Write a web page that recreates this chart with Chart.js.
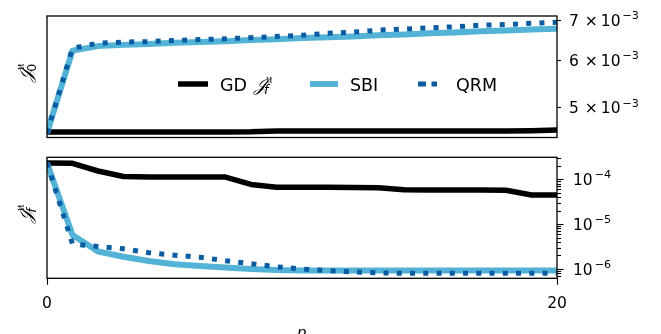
<!DOCTYPE html>
<html>
<head>
<meta charset="utf-8">
<script src="https://cdn.jsdelivr.net/npm/chart.js@4.4.0/dist/chart.umd.min.js"></script>
<style>
  html, body { margin: 0; padding: 0; background: #fff; width: 661px; height: 334px; overflow: hidden; }
  #wrap { position: relative; width: 661px; height: 334px; }
  canvas { position: absolute; left: 0; }
  #topPanel { top: 0; }
  #bottomPanel { top: 150px; }
</style>
</head>
<body>
<div id="wrap">
  <canvas id="topPanel" width="661" height="150"></canvas>
  <canvas id="bottomPanel" width="661" height="184"></canvas>
</div>
<script>
// Iteration index n
const iterations = [0, 1, 2, 3, 4, 5, 6, 7, 8, 9, 10, 11, 12, 13, 14, 15, 16, 17, 18, 19, 20];

// Upper panel: J_0^u per iteration
const gdTop  = [4.547e-3, 4.547e-3, 4.547e-3, 4.547e-3, 4.547e-3, 4.547e-3, 4.547e-3, 4.547e-3, 4.550e-3,
                4.564e-3, 4.564e-3, 4.564e-3, 4.564e-3, 4.564e-3, 4.564e-3, 4.564e-3, 4.564e-3, 4.564e-3,
                4.566e-3, 4.570e-3, 4.581e-3];
const sbiTop = [4.53e-3, 6.22e-3, 6.33e-3, 6.36e-3, 6.38e-3, 6.41e-3, 6.43e-3, 6.45e-3, 6.48e-3, 6.50e-3,
                6.53e-3, 6.55e-3, 6.57e-3, 6.60e-3, 6.62e-3, 6.65e-3, 6.67e-3, 6.70e-3, 6.72e-3, 6.75e-3, 6.77e-3];
const qrmTop = [4.53e-3, 6.28e-3, 6.40e-3, 6.43e-3, 6.44e-3, 6.47e-3, 6.49e-3, 6.51e-3, 6.54e-3, 6.57e-3,
                6.60e-3, 6.65e-3, 6.68e-3, 6.73e-3, 6.76e-3, 6.79e-3, 6.82e-3, 6.86e-3, 6.88e-3, 6.91e-3, 6.94e-3];

// Lower panel: J_f^u per iteration
const gdBot  = [2.31e-4, 2.27e-4, 1.53e-4, 1.15e-4, 1.13e-4, 1.125e-4, 1.12e-4, 1.12e-4, 7.66e-5, 6.63e-5,
                6.63e-5, 6.60e-5, 6.56e-5, 6.46e-5, 5.83e-5, 5.80e-5, 5.77e-5, 5.74e-5, 5.70e-5, 4.47e-5, 4.47e-5];
const sbiBot = [2.31e-4, 5.73e-6, 2.46e-6, 1.88e-6, 1.51e-6, 1.27e-6, 1.17e-6, 1.08e-6, 1.00e-6, 0.95e-6,
                0.93e-6, 0.93e-6, 0.93e-6, 0.93e-6, 0.93e-6, 0.93e-6, 0.93e-6, 0.93e-6, 0.93e-6, 0.93e-6, 0.93e-6];
const qrmBot = [2.31e-4, 3.61e-6, 3.17e-6, 2.82e-6, 2.31e-6, 2.03e-6, 1.83e-6, 1.53e-6, 1.31e-6, 1.12e-6,
                1.00e-6, 0.92e-6, 0.86e-6, 0.82e-6, 0.80e-6, 0.80e-6, 0.80e-6, 0.80e-6, 0.80e-6, 0.80e-6, 0.80e-6];

// Axis ranges and ticks
const xTicks = [0, 20];
const topRange = [4.452e-3, 7.108e-3];
const topTicks = [5e-3, 6e-3, 7e-3];
const bottomRange = [0.62e-6, 3.09e-4];
const bottomMajorTicks = [1e-6, 1e-5, 1e-4];
const bottomMinorTicks = [7e-7, 8e-7, 9e-7,
                          2e-6, 3e-6, 4e-6, 5e-6, 6e-6, 7e-6, 8e-6, 9e-6,
                          2e-5, 3e-5, 4e-5, 5e-5, 6e-5, 7e-5, 8e-5, 9e-5,
                          2e-4, 3e-4];

const seriesNames = ['GD', 'SBI', 'QRM'];
const COLORS = { gd: '#000000', sbi: '#52b3d6', qrm: '#0a5ca2' };
const FONT = "'DejaVu Sans', sans-serif";
const TICK_SIZE = 15.5;

function points(ys) { return iterations.map((n, i) => ({ x: n, y: ys[i] })); }

function makeDatasets(gd, sbi, qrm) {
  return [
    { label: seriesNames[0], data: points(gd), borderColor: COLORS.gd, borderWidth: 5.5, order: 3 },
    { label: seriesNames[1], data: points(sbi), borderColor: COLORS.sbi, borderWidth: 6, order: 2 },
    { label: seriesNames[2], data: points(qrm), borderColor: COLORS.qrm, borderWidth: 5,
      borderDash: [5, 8.25], borderCapStyle: 'butt', order: 1 }
  ].map(d => Object.assign({ pointRadius: 0, tension: 0, fill: false, borderJoinStyle: 'round' }, d));
}

// Script J with a superscript u and a subscript, drawn left-aligned from (x, baseline)
function drawJ(ctx, x, base, size, sub, subItalic) {
  ctx.save();
  ctx.textAlign = 'left';
  ctx.textBaseline = 'alphabetic';
  ctx.font = `italic ${size}px 'DejaVu Serif', serif`;
  ctx.fillText('𝒥', x, base);
  const wJ = ctx.measureText('𝒥').width;
  const s = size * 0.7;
  ctx.font = `${s}px 'DejaVu Serif', serif`;
  ctx.fillText('𝔲', x + wJ + 0.5, base - size * 0.42);
  const wU = ctx.measureText('𝔲').width;
  ctx.font = `${subItalic ? 'italic ' : ''}${s}px 'DejaVu Sans', sans-serif`;
  ctx.fillText(sub, x + wJ - 1.5, base + size * 0.22);
  const wS = ctx.measureText(sub).width;
  ctx.restore();
  return wJ + Math.max(wU + 0.5, wS - 1.5);
}

function measureJ(ctx, size, sub, subItalic) {
  ctx.save();
  ctx.font = `italic ${size}px 'DejaVu Serif', serif`;
  const wJ = ctx.measureText('𝒥').width;
  ctx.font = `${size * 0.7}px 'DejaVu Serif', serif`;
  const wU = ctx.measureText('𝔲').width;
  ctx.font = `${subItalic ? 'italic ' : ''}${size * 0.7}px 'DejaVu Sans', sans-serif`;
  const wS = ctx.measureText(sub).width;
  ctx.restore();
  return wJ + Math.max(wU + 0.5, wS - 1.5);
}

// Rotated axis title at the left of a panel
function drawYTitle(ctx, cx, cy, sub, subItalic) {
  const size = 18;
  ctx.save();
  ctx.translate(cx, cy);
  ctx.rotate(-Math.PI / 2);
  const w = measureJ(ctx, size, sub, subItalic);
  drawJ(ctx, -w / 2, size * 0.28, size, sub, subItalic);
  ctx.restore();
}

// "m × 10^e" or "10^e" tick label, vertically centred on y
function drawPowLabel(ctx, x, y, value, withMantissa) {
  const exp = Math.floor(Math.log10(value) + 1e-9);
  const mant = Math.round(value / Math.pow(10, exp));
  const base = y + TICK_SIZE * 0.365;
  ctx.save();
  ctx.fillStyle = '#000';
  ctx.textAlign = 'left';
  ctx.textBaseline = 'alphabetic';
  ctx.font = `${TICK_SIZE}px ${FONT}`;
  let cx = x;
  if (withMantissa) {
    ctx.fillText(String(mant), cx, base);
    ctx.fillText('×', cx + TICK_SIZE * 1.02, base);
    cx += TICK_SIZE * 2.05;
  }
  ctx.fillText('10', cx, base);
  cx += ctx.measureText('10').width + 2;
  ctx.font = `${TICK_SIZE * 0.72}px ${FONT}`;
  ctx.fillText('−' + Math.abs(exp), cx, base - TICK_SIZE * 0.42);
  ctx.restore();
}

const framePlugin = {
  id: 'panelFrame',
  afterDatasetsDraw(chart) {
    const a = chart.chartArea, c = chart.ctx;
    c.save();
    c.strokeStyle = '#000';
    c.lineWidth = 1.3;
    c.strokeRect(a.left, a.top, a.right - a.left, a.bottom - a.top);
    c.restore();
  }
};

function rightTicks(chart, values, len) {
  const a = chart.chartArea, c = chart.ctx, ys = chart.scales.y;
  c.save();
  c.strokeStyle = '#000';
  c.lineWidth = 1.1;
  values.forEach(v => {
    const py = Math.round(ys.getPixelForValue(v)) + 0.5;
    c.beginPath();
    c.moveTo(a.right, py);
    c.lineTo(a.right + len, py);
    c.stroke();
  });
  c.restore();
}

const topDecor = {
  id: 'topDecor',
  afterDraw(chart) {
    const c = chart.ctx, ys = chart.scales.y;
    rightTicks(chart, topTicks, 4);
    topTicks.forEach(v => drawPowLabel(c, 569, ys.getPixelForValue(v), v, true));
    drawYTitle(c, 27, 73, '0', false);

    // Legend row inside the upper panel
    const ly = 84;
    const ds = chart.data.datasets;
    c.save();
    c.lineCap = 'butt';
    c.lineWidth = ds[0].borderWidth; c.strokeStyle = ds[0].borderColor;
    c.beginPath(); c.moveTo(178, ly); c.lineTo(208, ly); c.stroke();
    c.lineWidth = ds[1].borderWidth; c.strokeStyle = ds[1].borderColor;
    c.beginPath(); c.moveTo(310, ly); c.lineTo(338, ly); c.stroke();
    c.lineWidth = ds[2].borderWidth; c.strokeStyle = ds[2].borderColor;
    c.setLineDash([8, 5.5]);
    c.beginPath(); c.moveTo(418, ly); c.lineTo(437, ly); c.stroke();
    c.setLineDash([]);
    c.fillStyle = '#000';
    c.font = `17.5px ${FONT}`;
    c.textAlign = 'left';
    c.textBaseline = 'alphabetic';
    const base = ly + 6.5;
    c.fillText(ds[0].label, 220, base);
    drawJ(c, 253.5, base, 18, 'f', true);
    c.fillText(ds[1].label, 350, base);
    c.fillText(ds[2].label, 456, base);
    c.restore();
  }
};

const bottomDecor = {
  id: 'bottomDecor',
  afterDraw(chart) {
    const c = chart.ctx, ys = chart.scales.y, xs = chart.scales.x, a = chart.chartArea;
    rightTicks(chart, bottomMinorTicks, 4);
    rightTicks(chart, bottomMajorTicks, 6.5);
    bottomMajorTicks.forEach(v => drawPowLabel(c, 573, ys.getPixelForValue(v), v, false));
    drawYTitle(c, 27, 64, 'f', true);

    // Shared x axis ticks and labels
    c.save();
    c.strokeStyle = '#000';
    c.lineWidth = 1.1;
    c.fillStyle = '#000';
    c.font = `${TICK_SIZE}px ${FONT}`;
    c.textAlign = 'center';
    c.textBaseline = 'alphabetic';
    xTicks.forEach(v => {
      const px = Math.round(xs.getPixelForValue(v)) + 0.5;
      c.beginPath(); c.moveTo(px, a.bottom); c.lineTo(px, a.bottom + 6.5); c.stroke();
      c.fillText(String(v), xs.getPixelForValue(v), a.bottom + 29.5);
    });
    c.font = `italic ${TICK_SIZE}px ${FONT}`;
    c.fillText('n', (a.left + a.right) / 2, 187.5);
    c.restore();
  }
};

function makeChart(id, datasets, range, padding, plugin) {
  return new Chart(document.getElementById(id), {
    type: 'line',
    data: { datasets },
    options: {
      responsive: false,
      animation: false,
      devicePixelRatio: 1,
      layout: { padding },
      plugins: { legend: { display: false }, tooltip: { enabled: false } },
      scales: {
        x: { type: 'linear', min: 0, max: 20, display: false },
        y: { type: 'logarithmic', min: range[0], max: range[1], display: false }
      }
    },
    plugins: [framePlugin, plugin]
  });
}

makeChart('topPanel', makeDatasets(gdTop, sbiTop, qrmTop), topRange,
          { left: 47, right: 104, top: 16, bottom: 12.5 }, topDecor);
makeChart('bottomPanel', makeDatasets(gdBot, sbiBot, qrmBot), bottomRange,
          { left: 47, right: 104, top: 7.3, bottom: 55.7 }, bottomDecor);
</script>
</body>
</html>
